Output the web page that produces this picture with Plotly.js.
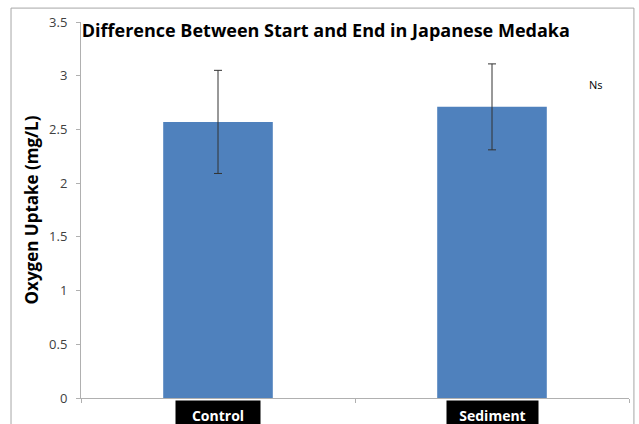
<!DOCTYPE html>
<html>
<head>
<meta charset="utf-8">
<script src="https://cdn.plot.ly/plotly-3.0.1.min.js"></script>
<style>html,body{margin:0;padding:0;background:#fff;}#chart{width:639px;height:424px;}</style>
</head>
<body>
<div id="chart"></div>
<script>
const categories = ["Control", "Sediment"];
const values = [2.57, 2.71];
const errors = [0.48, 0.40];
const yTicks = [0, 0.5, 1, 1.5, 2, 2.5, 3, 3.5];
const yTickLabels = ["0", "0.5", "1", "1.5", "2", "2.5", "3", "3.5"];

const FONT = "'Open Sans', Lato, sans-serif";
const boxWidths = [84, 91];

const trace = {
  type: "bar",
  x: categories,
  y: values,
  width: 0.4,
  marker: {color: "#4F81BD"},
  error_y: {type: "data", array: errors, visible: true, color: "#333333", thickness: 1, width: 4},
  hoverinfo: "none"
};

const annotations = categories.map((c, i) => ({
  x: c, xref: "x", y: -0.005, yref: "paper", yanchor: "top", xanchor: "center",
  text: "<b>" + c + "</b>", showarrow: false,
  font: {family: FONT, size: 14, color: "#ffffff"},
  bgcolor: "#000000", borderpad: 0, width: boxWidths[i], height: 28, valign: "middle"
}));
annotations.push({
  x: 0.956, xref: "paper", y: 0.86, yref: "paper", text: "Ns", showarrow: false,
  font: {family: FONT, size: 11, color: "#000000"}
});

const layout = {
  width: 639, height: 424,
  margin: {l: 81, r: 10, t: 22, b: 26},
  paper_bgcolor: "#ffffff", plot_bgcolor: "#ffffff",
  showlegend: false,
  title: {
    text: "<b>Difference Between Start and End in Japanese Medaka</b>",
    x: 0.128, xref: "container", xanchor: "left",
    y: 0.928, yref: "container", yanchor: "middle",
    font: {family: FONT, size: 18, color: "#000000"}
  },
  xaxis: {
    type: "category", showticklabels: false,
    showline: true, linecolor: "#b0b0b0", linewidth: 1,
    ticks: "outside", tickson: "boundaries", ticklen: 4, tickcolor: "#b0b0b0",
    showgrid: false, zeroline: false, range: [-0.5, 1.5]
  },
  yaxis: {
    range: [0, 3.5], tickvals: yTicks, ticktext: yTickLabels,
    showline: true, linecolor: "#b0b0b0", linewidth: 1,
    ticks: "outside", ticklen: 4, tickcolor: "#b0b0b0",
    ticklabelstandoff: 6,
    showgrid: false, zeroline: false,
    tickfont: {family: FONT, size: 13, color: "#404040"},
    title: {text: "<b>Oxygen Uptake (mg/L)</b>", font: {family: FONT, size: 17, color: "#000000"}, standoff: 6}
  },
  annotations: annotations,
  shapes: [{
    type: "rect", xref: "paper", yref: "paper",
    x0: -0.1277, x1: 1.009, y0: -0.2, y1: 1.037,
    line: {color: "#a6a6a6", width: 1}, fillcolor: "rgba(0,0,0,0)", layer: "below"
  }]
};

Plotly.newPlot("chart", [trace], layout, {displayModeBar: false, staticPlot: true});
</script>
</body>
</html>
